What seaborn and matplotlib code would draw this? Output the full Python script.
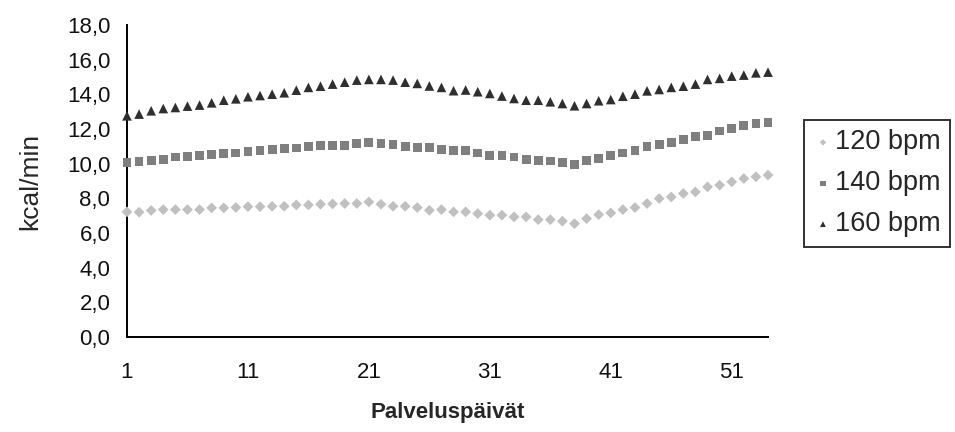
import matplotlib
matplotlib.use("Agg")
import matplotlib.pyplot as plt
from matplotlib.ticker import FuncFormatter
import seaborn as sns
import pandas as pd

days = list(range(1, 55))
series_names = ["120 bpm", "140 bpm", "160 bpm"]

bpm120 = [7.22, 7.20, 7.30, 7.35, 7.35, 7.35, 7.35, 7.45, 7.45, 7.47,
          7.52, 7.52, 7.54, 7.54, 7.62, 7.62, 7.66, 7.68, 7.70, 7.70,
          7.79, 7.66, 7.54, 7.54, 7.47, 7.31, 7.35, 7.22, 7.22, 7.12,
          7.03, 7.03, 6.93, 6.93, 6.77, 6.77, 6.68, 6.54, 6.83, 7.06,
          7.16, 7.35, 7.47, 7.70, 7.99, 8.08, 8.28, 8.37, 8.66, 8.76,
          8.95, 9.14, 9.24, 9.34]
bpm140 = [10.07, 10.14, 10.20, 10.24, 10.39, 10.43, 10.47, 10.55, 10.59, 10.62,
          10.68, 10.74, 10.82, 10.86, 10.91, 10.97, 11.03, 11.05, 11.07, 11.16,
          11.20, 11.16, 11.12, 11.01, 10.93, 10.93, 10.82, 10.74, 10.74, 10.62,
          10.49, 10.49, 10.39, 10.26, 10.20, 10.16, 10.05, 9.95, 10.20, 10.30,
          10.49, 10.62, 10.74, 10.97, 11.12, 11.20, 11.39, 11.55, 11.64, 11.89,
          12.03, 12.22, 12.32, 12.38]
bpm160 = [12.76, 12.86, 13.05, 13.18, 13.24, 13.32, 13.38, 13.51, 13.66, 13.74,
          13.86, 13.93, 14.01, 14.09, 14.24, 14.40, 14.47, 14.59, 14.70, 14.82,
          14.86, 14.86, 14.82, 14.70, 14.63, 14.48, 14.40, 14.21, 14.25, 14.15,
          14.05, 13.90, 13.76, 13.66, 13.66, 13.57, 13.47, 13.34, 13.47, 13.63,
          13.70, 13.89, 14.01, 14.20, 14.28, 14.40, 14.47, 14.59, 14.86, 14.92,
          15.05, 15.11, 15.24, 15.28]

x_ticks = [1, 11, 21, 31, 41, 51]
y_ticks = [0, 2, 4, 6, 8, 10, 12, 14, 16, 18]

df = pd.DataFrame({
    "day": days * 3,
    "kcal": bpm120 + bpm140 + bpm160,
    "series": [series_names[0]] * len(days) + [series_names[1]] * len(days) + [series_names[2]] * len(days),
})

sns.set_style("white")
plt.rcParams["font.family"] = ["Liberation Sans", "DejaVu Sans"]

fig = plt.figure(figsize=(9.55, 4.32), dpi=100)
ax = fig.add_axes([127 / 955, 1 - 337 / 432, (768 - 127) / 955, (337 - 25) / 432])

palette = {"120 bpm": "#c0c0c0", "140 bpm": "#7f7f7f", "160 bpm": "#2f2f2f"}
markers = {"120 bpm": "D", "140 bpm": "s", "160 bpm": "^"}
sizes_map = {"120 bpm": 30, "140 bpm": 40, "160 bpm": 48}

for name in series_names:
    sub = df[df["series"] == name]
    sns.scatterplot(data=sub, x="day", y="kcal", color=palette[name], marker=markers[name],
                    s=sizes_map[name], edgecolor="none", linewidth=0, ax=ax, label=name,
                    clip_on=False, zorder=3)

handles, labels = ax.get_legend_handles_labels()
if ax.get_legend() is not None:
    ax.get_legend().remove()

ax.set_xlim(1, 54)
ax.set_ylim(0, 18)
ax.set_xticks(x_ticks)
ax.set_yticks(y_ticks)
ax.yaxis.set_major_formatter(FuncFormatter(lambda v, p: f"{v:.1f}".replace(".", ",")))

for s in ["top", "right"]:
    ax.spines[s].set_visible(False)
for s in ["left", "bottom"]:
    ax.spines[s].set_color("black")
    ax.spines[s].set_linewidth(1.4)

ax.tick_params(axis="both", which="major", direction="out", length=7, width=1.4,
               color="black", labelsize=16, labelcolor="#111111")
ax.tick_params(axis="x", pad=11)
ax.tick_params(axis="y", pad=5)

ax.set_xlabel("Palveluspäivät", fontsize=16, fontweight="bold", labelpad=14)
ax.set_ylabel("kcal/min", fontsize=19, labelpad=18)

leg = fig.legend(handles, labels, loc="upper left", bbox_to_anchor=(804 / 955, 1 - 120 / 432),
                 frameon=True, fontsize=19.5, handletextpad=0.1, borderpad=0.35,
                 borderaxespad=0, labelspacing=0.55, handlelength=0.7, fancybox=False,
                 markerscale=0.6)
leg.get_frame().set_edgecolor("black")
leg.get_frame().set_linewidth(1.4)

fig.savefig("out.png", dpi=100)
